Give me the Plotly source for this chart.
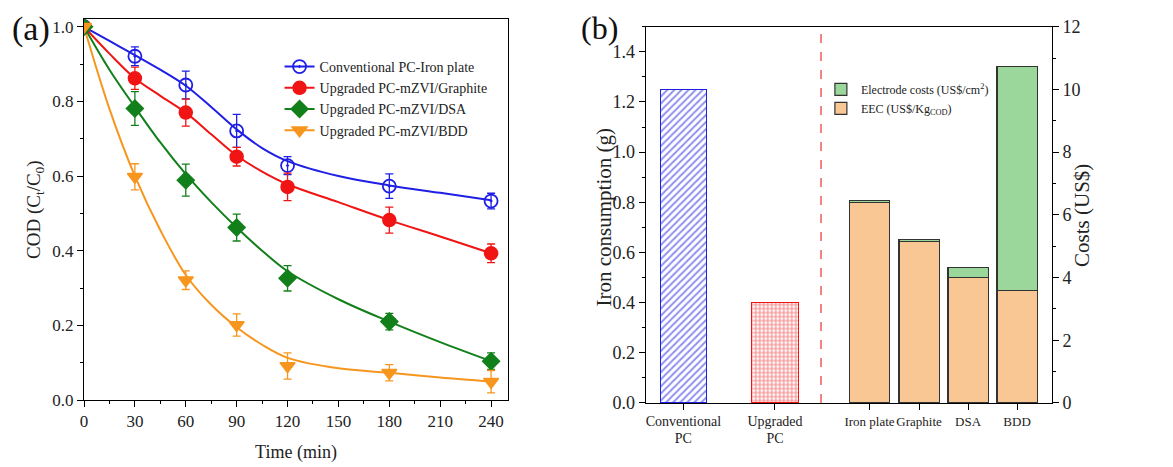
import plotly.graph_objects as go

# ---------------- Panel (a) data ----------------
time_pts = [0, 30, 60, 90, 120, 180, 240]
conv_iron = [1.0, 0.921, 0.844, 0.721, 0.628, 0.573, 0.533]
conv_iron_err = [0, 0.025, 0.037, 0.044, 0.024, 0.033, 0.021]
up_graphite = [1.0, 0.862, 0.770, 0.652, 0.571, 0.482, 0.393]
up_graphite_err = [0, 0.03, 0.036, 0.025, 0.037, 0.035, 0.025]
up_dsa = [1.0, 0.781, 0.589, 0.462, 0.326, 0.210, 0.104]
up_dsa_err = [0, 0.045, 0.043, 0.036, 0.034, 0.022, 0.022]
up_bdd = [1.0, 0.598, 0.321, 0.201, 0.091, 0.073, 0.049]
up_bdd_err = [0, 0.035, 0.025, 0.03, 0.035, 0.022, 0.03]

# fitted curves
fit_t = [0, 15, 30, 45, 60, 75, 90, 105, 120, 150, 180, 210, 240]
fit_conv_iron = [1.0, 0.962, 0.924, 0.885, 0.842, 0.785, 0.725, 0.675, 0.640, 0.600, 0.575, 0.555, 0.535]
fit_up_graphite = [1.0, 0.928, 0.862, 0.815, 0.770, 0.712, 0.655, 0.612, 0.578, 0.530, 0.482, 0.438, 0.393]
fit_up_dsa = [1.0, 0.885, 0.785, 0.690, 0.605, 0.530, 0.462, 0.400, 0.345, 0.270, 0.210, 0.155, 0.104]
fit_up_bdd = [1.0, 0.780, 0.600, 0.455, 0.335, 0.255, 0.195, 0.148, 0.113, 0.085, 0.073, 0.060, 0.049]

series_names = ["Conventional PC-Iron plate", "Upgraded PC-mZVI/Graphite",
                "Upgraded PC-mZVI/DSA", "Upgraded PC-mZVI/BDD"]

# ---------------- Panel (b) data ----------------
pc_labels = ["Conventional<br>PC", "Upgraded<br>PC"]
iron_consumption = [1.25, 0.40]
electrode_labels = ["Iron plate", "Graphite", "DSA", "BDD"]
eec_costs = [6.40, 5.15, 4.00, 3.60]
electrode_costs = [0.06, 0.07, 0.33, 7.13]

# positions on panel (b) x axis (layout only)
pc_pos = [0.76, 2.61]
el_pos = [4.52, 5.52, 6.51, 7.50]
divider_pos = 3.54

FONT = "Liberation Serif"
colors = ["#1f1fe6", "#f01414", "#12801a", "#f7961e"]
symbols = ["circle-open-dot", "circle", "diamond", "triangle-down"]

fig = go.Figure()

pts = [conv_iron, up_graphite, up_dsa, up_bdd]
errs = [conv_iron_err, up_graphite_err, up_dsa_err, up_bdd_err]
fits = [fit_conv_iron, fit_up_graphite, fit_up_dsa, fit_up_bdd]

for i in range(4):
    fig.add_trace(go.Scatter(x=fit_t, y=fits[i], mode="lines", line=dict(color=colors[i], width=2, shape="spline"),
                             showlegend=False, xaxis="x", yaxis="y", hoverinfo="skip"))
for i in range(4):
    mk = dict(symbol=symbols[i], size=13, color=colors[i], line=dict(color=colors[i], width=1.5))
    if i == 0:
        mk["line"] = dict(color=colors[i], width=1.8)
    fig.add_trace(go.Scatter(x=time_pts, y=pts[i], mode="markers", marker=mk,
                             error_y=dict(type="data", array=errs[i], color=colors[i], thickness=1.3, width=4),
                             showlegend=False, xaxis="x", yaxis="y"))
    fig.add_trace(go.Scatter(x=[None], y=[None], mode="lines+markers", name=series_names[i],
                             line=dict(color=colors[i], width=2), marker=mk, xaxis="x", yaxis="y",
                             legend="legend"))

# Panel (b) bars
fig.add_trace(go.Bar(x=[pc_pos[0]], y=[iron_consumption[0]], width=0.94, xaxis="x2", yaxis="y2",
                     marker=dict(color="white", line=dict(color="#2020e0", width=1.2),
                                 pattern=dict(shape="/", fgcolor="#2020e0", bgcolor="white", size=5, solidity=0.4)),
                     showlegend=False))
fig.add_trace(go.Bar(x=[pc_pos[1]], y=[iron_consumption[1]], width=0.94, xaxis="x2", yaxis="y2",
                     marker=dict(color="white", line=dict(color="#f01414", width=1.2),
                                 pattern=dict(shape="+", fgcolor="#f01414", bgcolor="white", size=4, solidity=0.5)),
                     showlegend=False))
fig.add_trace(go.Bar(x=el_pos, y=eec_costs, width=0.81, xaxis="x2", yaxis="y3",
                     name="EEC (US$/Kg<sub>COD</sub>)", legend="legend2",
                     marker=dict(color="#f9c794", line=dict(color="#333333", width=1.2))))
fig.add_trace(go.Bar(x=el_pos, y=electrode_costs, width=0.81, xaxis="x2", yaxis="y3",
                     name="Electrode costs (US$/cm<sup>2</sup>)", legend="legend2",
                     marker=dict(color="#9bd69b", line=dict(color="#333333", width=1.2))))

axis_common = dict(showline=True, linecolor="black", linewidth=1.2, ticks="outside", ticklen=6,
                   tickcolor="black", showgrid=False, zeroline=False, automargin=False)
tf_a = dict(family=FONT, size=17, color="#222")
tf_b = dict(family=FONT, size=18, color="#222")

# tick texts for panel (b): slightly larger for the two PC labels
x2_ticktext = ['<span style="font-size:14px">%s</span>' % t for t in pc_labels] + electrode_labels

fig.update_layout(
    width=1173, height=467, margin=dict(l=0, r=0, t=0, b=0),
    paper_bgcolor="white", plot_bgcolor="white", barmode="stack",
    font=dict(family=FONT, color="#222"),
    xaxis=dict(domain=[0.0648, 0.4263], anchor="y", range=[0, 250], tickvals=[0, 30, 60, 90, 120, 150, 180, 210, 240],
               mirror=True, tickangle=0, tickfont=tf_a,
               minor=dict(dtick=15, tick0=0, ticklen=3, ticks="outside", tickcolor="black"),
               title=dict(text="Time (min)", font=dict(family=FONT, size=18), standoff=14), **axis_common),
    yaxis=dict(domain=[0.1606, 0.9758], anchor="x", range=[0, 1.02], tickvals=[0, 0.2, 0.4, 0.6, 0.8, 1.0],
               tickformat=".1f", mirror=True, tickfont=tf_a,
               minor=dict(dtick=0.1, tick0=0, ticklen=3, ticks="outside", tickcolor="black"),
               title=dict(text="COD (C<sub>t</sub>/C<sub>0</sub>)", font=dict(family=FONT, size=19), standoff=6),
               **axis_common),
    xaxis2=dict(domain=[0.5437, 0.8898], anchor="y2", range=[0, 8.2], tickvals=pc_pos + el_pos,
                ticktext=x2_ticktext, mirror=True, tickangle=0,
                tickfont=dict(family=FONT, size=13, color="#222"), **axis_common),
    yaxis2=dict(domain=[0.1542, 0.96], anchor="x2", range=[0, 1.5], tickvals=[0, 0.2, 0.4, 0.6, 0.8, 1.0, 1.2, 1.4],
                tickformat=".1f", tickfont=tf_b,
                minor=dict(dtick=0.1, tick0=0, ticklen=3, ticks="outside", tickcolor="black"),
                **axis_common),
    yaxis3=dict(overlaying="y2", anchor="x2", side="right", range=[0, 12], tickvals=[0, 2, 4, 6, 8, 10, 12],
                tickfont=tf_b,
                minor=dict(dtick=1, tick0=0, ticklen=3, ticks="outside", tickcolor="black"),
                **axis_common),
    legend=dict(x=0.2315, y=0.908, xanchor="left", yanchor="top", traceorder="normal",
                font=dict(family=FONT, size=14, color="#222"), bgcolor="rgba(0,0,0,0)",
                tracegroupgap=0, itemwidth=30),
    legend2=dict(x=0.693, y=0.857, xanchor="left", yanchor="top", traceorder="reversed",
                 font=dict(family=FONT, size=12, color="#222"), bgcolor="rgba(0,0,0,0)"),
    shapes=[dict(type="line", xref="x2", yref="y2 domain", x0=divider_pos, x1=divider_pos, y0=0, y1=1,
                 line=dict(color="#f04040", width=1.3, dash="dash"))],
    annotations=[
        dict(text="(a)", x=0.002, y=1.0, xref="paper", yref="paper", xanchor="left", yanchor="top",
             showarrow=False, font=dict(family=FONT, size=34, color="#111")),
        dict(text="(b)", x=0.487, y=1.0, xref="paper", yref="paper", xanchor="left", yanchor="top",
             showarrow=False, font=dict(family=FONT, size=32, color="#111")),
        dict(text="Iron consumption (g)", x=0.5085, y=0.5525, xref="paper", yref="paper",
             xanchor="center", yanchor="middle", textangle=-90, showarrow=False,
             font=dict(family=FONT, size=21, color="#222")),
        dict(text="Costs (US$)", x=0.9155, y=0.5567, xref="paper", yref="paper",
             xanchor="center", yanchor="middle", textangle=-90, showarrow=False,
             font=dict(family=FONT, size=21, color="#222")),
    ],
)

fig.write_html("out.html")
